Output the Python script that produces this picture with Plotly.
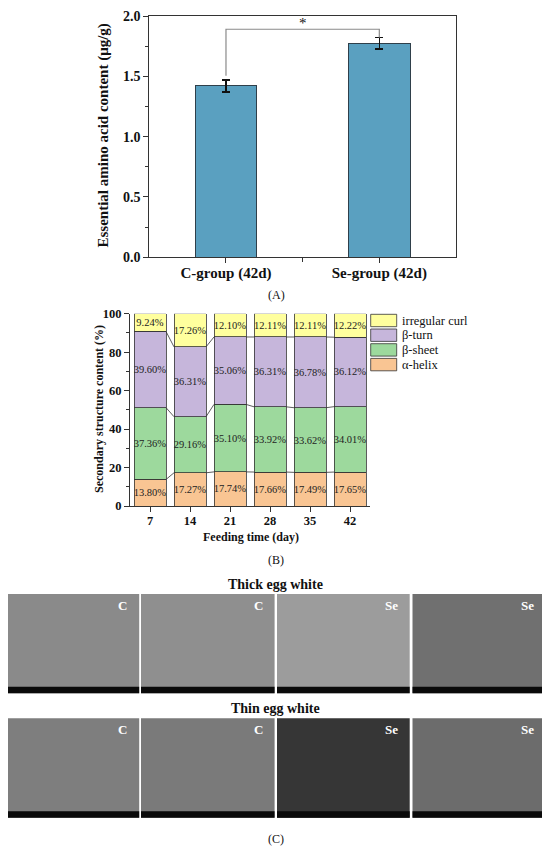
import plotly.graph_objects as go

# Panel A data
groups = ["C-group (42d)", "Se-group (42d)"]
eaa = [1.42, 1.775]
eaa_err = [0.05, 0.047]

# Panel B data
days = ["7", "14", "21", "28", "35", "42"]
alpha_helix = [13.80, 17.27, 17.74, 17.66, 17.49, 17.65]
beta_sheet = [37.36, 29.16, 35.10, 33.92, 33.62, 34.01]
beta_turn = [39.60, 36.31, 35.06, 36.31, 36.78, 36.12]
irregular_curl = [9.24, 17.26, 12.10, 12.11, 12.11, 12.22]

# Panel C labels
sem_rows = ["Thick egg white", "Thin egg white"]
sem_labels = ["C", "C", "Se", "Se"]

# page body has an 8px margin, so the figure is shifted by that much
OFF = 8
W, H = 550 - OFF, 849 - OFF
FONT = "Liberation Serif"


def py(px):
    return 1 - (px - OFF) / H


def pxx(px):
    return (px - OFF) / W


fig = go.Figure()

# ---- (A) bar chart
fig.add_trace(go.Bar(
    x=[0, 1], y=eaa, width=0.4,
    marker=dict(color="#5aa0c0", line=dict(color="#2f3f4a", width=1)),
    error_y=dict(type="data", array=eaa_err, color="#111", thickness=1.5, width=4),
    xaxis="x", yaxis="y", showlegend=False,
))
# significance bracket
fig.add_trace(go.Scatter(
    x=[0, 0, 1, 1],
    y=[eaa[0] + eaa_err[0] + 0.035, 1.89, 1.89, eaa[1] + eaa_err[1]],
    mode="lines", line=dict(color="#8a8a8a", width=1.2),
    xaxis="x", yaxis="y", showlegend=False, hoverinfo="skip",
))

# ---- (B) stacked bars
series = [
    ("α-helix", alpha_helix, "#f9c593"),
    ("β-sheet", beta_sheet, "#9dd99d"),
    ("β-turn", beta_turn, "#c6b6db"),
    ("irregular curl", irregular_curl, "#ffff9e"),
]
xi = list(range(len(days)))
for name, vals, col in series:
    fig.add_trace(go.Bar(
        x=xi, y=vals, name=name, width=0.8,
        marker=dict(color=col, line=dict(color="#333", width=0.8)),
        text=[f"{v:.2f}%" for v in vals], textposition="inside",
        insidetextanchor="middle", constraintext="none", textangle=0,
        textfont=dict(family=FONT, size=10.5, color="#222"),
        xaxis="x2", yaxis="y2", showlegend=False,
    ))

# connecting lines between bars
cum = [0] * len(days)
lx, ly = [], []
for name, vals, col in series[:-1]:
    cum = [c + v for c, v in zip(cum, vals)]
    for i in range(len(days) - 1):
        lx += [i + 0.4, i + 0.6, None]
        ly += [cum[i], cum[i + 1], None]
fig.add_trace(go.Scatter(
    x=lx, y=ly, mode="lines", line=dict(color="#333", width=0.8),
    xaxis="x2", yaxis="y2", showlegend=False, hoverinfo="skip",
))

shapes = []
annotations = []


def note(x, y, text, size, angle=0, xanchor="center", color="#111"):
    annotations.append(dict(x=x, y=y, xref="paper", yref="paper", text=text,
                            textangle=angle, showarrow=False, xanchor=xanchor,
                            yanchor="middle", font=dict(family=FONT, size=size, color=color)))


# manual legend for (B)
leg_top = [314.3, 329.0, 343.7, 358.4]
for (name, vals, col), top in zip(series[::-1], leg_top):
    shapes.append(dict(type="rect", xref="paper", yref="paper",
                       x0=pxx(370.7), x1=pxx(396.7), y0=py(top + 12.4), y1=py(top),
                       fillcolor=col, line=dict(color="#333", width=0.8)))
    note(pxx(400), py(top + 6.2), name, 12.5, xanchor="left")

# ---- (C) SEM placeholders
img_x = [(8.0, 139.2), (141.0, 274.6), (277.0, 409.7), (412.5, 546.1)]
img_y = [(594.0, 693.3), (718.3, 817.7)]
img_fill = [["#8a8a8a", "#8f8f8f", "#9c9c9c", "#707070"],
            ["#7e7e7e", "#7a7a7a", "#363636", "#6c6c6c"]]
title_y = [584, 708]
for r, (y0, y1) in enumerate(img_y):
    note(pxx(275.5), py(title_y[r]), f"<b>{sem_rows[r]}</b>", 14)
    for c, (x0, x1) in enumerate(img_x):
        shapes.append(dict(type="rect", xref="paper", yref="paper",
                           x0=pxx(x0), x1=pxx(x1), y0=py(y1), y1=py(y0),
                           fillcolor=img_fill[r][c], line=dict(width=0)))
        shapes.append(dict(type="rect", xref="paper", yref="paper",
                           x0=pxx(x0), x1=pxx(x1), y0=py(y1), y1=py(y1 - 6.5),
                           fillcolor="#0a0a0a", line=dict(width=0)))
        note(pxx(x1 - 10), py(y0 + 11), f"<b>{sem_labels[c]}</b>", 13,
             xanchor="right", color="white")

# titles and panel labels
annotations.append(dict(x=0.5, y=1.94, xref="x", yref="y", text="*", showarrow=False,
                        xanchor="center", yanchor="middle",
                        font=dict(family=FONT, size=15, color="#111")))
note(pxx(103.5), py(136), "<b>Essential amino acid content (μg/g)</b>", 15, angle=-90)
note(pxx(276), py(295), "(A)", 12)
note(pxx(99), py(409), "<b>Secondary structure content (%)</b>", 12, angle=-90)
note(pxx(251.3), py(537.3), "<b>Feeding time (day)</b>", 12)
note(pxx(276), py(560), "(B)", 12)
note(pxx(276), py(839), "(C)", 12)

axis_common = dict(showline=True, linecolor="#333", linewidth=1.2, showgrid=False,
                   zeroline=False, ticks="outside", tickcolor="#333", automargin=False,
                   ticklabeloverflow="allow", tickfont=dict(family=FONT, color="#111"))

fig.update_layout(
    width=W, height=H,
    margin=dict(l=0, r=0, t=0, b=0),
    paper_bgcolor="white", plot_bgcolor="white",
    barmode="stack", bargap=0.2,
    xaxis=dict(**axis_common, domain=[pxx(149.3), pxx(456)], range=[-0.5, 1.5],
               tickvals=[0, 1], ticktext=[f"<b>{g}</b>" for g in groups],
               tickfont_size=15, ticklen=5, ticklabelstandoff=-3, mirror=True, anchor="y",
               minor=dict(tickvals=[0.5], ticks="outside", ticklen=4, tickcolor="#333")),
    yaxis=dict(**axis_common, domain=[py(257.3), py(16)], range=[0, 2],
               tickvals=[0, 0.5, 1.0, 1.5, 2.0],
               ticktext=["<b>0.0</b>", "<b>0.5</b>", "<b>1.0</b>", "<b>1.5</b>", "<b>2.0</b>"],
               tickfont_size=14, ticklen=5, mirror=True, anchor="x",
               minor=dict(dtick=0.25, ticks="outside", ticklen=3, tickcolor="#333")),
    xaxis2=dict(**axis_common, domain=[pxx(130), pxx(370)], range=[-0.5, 5.5],
                tickvals=xi, ticktext=[f"<b>{d}</b>" for d in days],
                tickfont_size=12.5, ticklen=5, ticklabelstandoff=-2, anchor="y2"),
    yaxis2=dict(**axis_common, domain=[py(506), py(313.7)], range=[0, 100],
                tickvals=[0, 20, 40, 60, 80, 100],
                ticktext=[f"<b>{v}</b>" for v in [0, 20, 40, 60, 80, 100]],
                tickfont_size=12.5, ticklen=5, anchor="x2",
                minor=dict(dtick=10, ticks="outside", ticklen=3, tickcolor="#333")),
    shapes=shapes,
    annotations=annotations,
)

fig.write_html("out.html")
